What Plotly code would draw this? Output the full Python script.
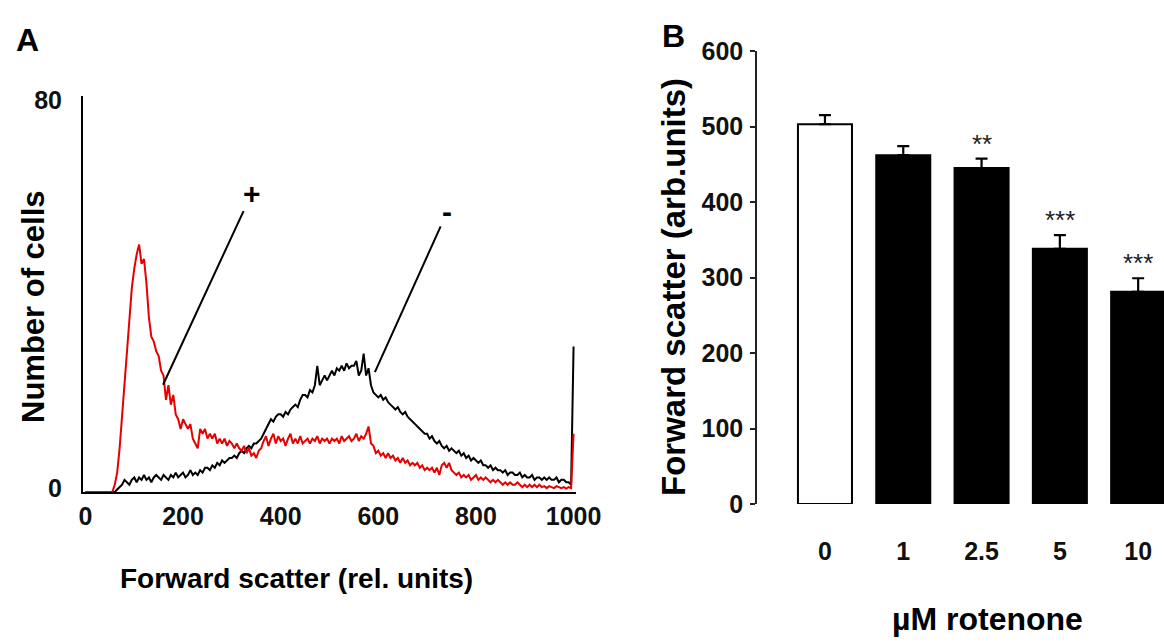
import plotly.graph_objects as go

# ---------------- data ----------------
# Panel A: flow-cytometry histograms (counts per channel, channels every 5 units)
red_counts = [
    0, 0, 0, 0, 0, 0, 0, 0, 0, 0,
    0, 0, 1.5, 4, 9, 16, 23, 30, 36, 42,
    46, 49, 51, 47, 48, 43, 36, 32, 31, 29,
    28, 25, 24, 19, 22, 18, 20, 16, 15, 13,
    15, 14, 13, 14, 11, 10, 9, 13, 12, 13,
    11, 12, 11, 12, 10, 11, 10, 11, 9.5, 10.5,
    10, 9, 10, 9, 8.5, 9.5, 8, 9, 7.5, 8,
    7, 8.5, 9, 10.5, 11.5, 9.5, 11, 12, 10, 11.5,
    10.5, 11, 9.5, 11, 12, 10, 11, 10, 11.5, 10,
    10.5, 11, 10, 11, 10.5, 11.5, 10, 11, 10.5, 11,
    10, 11, 10.5, 11, 10, 11.5, 10.5, 11, 11.5, 10.5,
    11, 12, 10.5, 11.5, 11, 12, 13.5, 10, 9.5, 8,
    8.5, 7.5, 8, 7, 8, 7, 7.5, 6.5, 7, 6,
    7, 6, 6.5, 5.5, 6, 5.5, 6, 5, 5.5, 4.5,
    5, 4.5, 5, 4, 5, 3.5, 5.5, 6, 5, 6,
    4.5, 4, 3.5, 4, 3, 3.5, 3, 3.5, 2.5, 3,
    3.5, 2.5, 3, 2.5, 3, 2.5, 2, 2.5, 2, 2.5,
    2, 1.5, 2, 1.5, 2, 1.5, 1.5, 2, 1.5, 1,
    1.5, 1, 1.5, 1, 1.5, 1, 1.5, 1, 1.2, 0.8,
    1.2, 1, 0.8, 1.2, 1, 0.8, 1, 0.7, 1, 0.8,
    12,
]
black_counts = [
    0, 0, 0, 0, 0, 0, 0, 0, 0, 0,
    0, 0, 0, 0.5, 1, 1.5, 2.5, 2, 1.5, 2.5,
    3, 2, 3, 2.5, 3.5, 2.5, 3, 2, 3, 3.5,
    3, 2.5, 3.5, 3, 2.5, 3.5, 3, 4, 3, 3.5,
    4, 3, 3.5, 4.5, 3.5, 4, 3.5, 4.5, 4, 5,
    5, 4.5, 5.5, 5, 6, 5.5, 6.5, 6, 6.5, 7,
    7, 7.5, 7, 8, 8.5, 8, 9, 9.5, 9, 10,
    10, 10.5, 11, 12, 13, 14, 15, 14.5, 15.5, 16,
    16, 15.5, 16.5, 16, 17, 17.5, 18, 17.5, 19, 20,
    20, 19.5, 21, 20.5, 22, 26, 22, 23, 24, 23,
    24, 25, 24, 25.5, 25, 26, 25, 26.5, 25.5, 26,
    26, 27, 24, 25, 28.5, 24, 25.5, 22, 20.5, 20,
    19.5, 20, 19, 19.5, 18.5, 18, 17.5, 17, 17.5, 16.5,
    16, 16.5, 15.5, 15, 14.5, 14, 13.5, 13, 12.5, 12,
    12, 11, 11.5, 10.5, 10, 10.5, 9.5, 9, 9.5, 8.5,
    9, 8.5, 8, 8.5, 7.5, 8, 7, 7.5, 6.5, 7,
    6.5, 6, 6.5, 5.5, 5.5, 5, 5.5, 4.5, 5, 4.5,
    4.5, 4, 4.5, 3.5, 4, 4, 3.5, 3.5, 4, 3,
    3.5, 3, 3, 3.5, 2.5, 3, 3, 2.5, 3, 2.5,
    3, 2.5, 2.5, 3, 2, 2.5, 2.5, 2, 2, 1.5,
    30,
]
channel_step = 5
red_channels = [channel_step * i for i in range(len(red_counts))]
black_channels = [channel_step * i for i in range(len(black_counts))]

a_xtick_vals = [0, 200, 400, 600, 800, 1000]
a_xtick_text = ["0", "200", "400", "600", "800", "1000"]
a_ytick_vals = [0, 80]
a_ytick_text = ["0", "80"]

# leader labels: (label, point on curve x, y, label x, y)
leader_labels = ["+", "-"]
leader_point_x = [159, 593]
leader_point_y = [22.1, 24.7]
leader_text_x = [341, 741]
leader_text_y = [61.6, 57.7]

# Panel B: bar chart
rotenone = ["0", "1", "2.5", "5", "10"]
fsc_mean = [503, 462, 445, 338, 281]
fsc_sem = [12, 12, 12.5, 18, 18]
significance = ["", "", "**", "***", "***"]
b_ytick_vals = [0, 100, 200, 300, 400, 500, 600]

# ---------------- layout helpers ----------------
W, H = 1164, 642
FONT = "Liberation Sans, Arial, sans-serif"


def px(p):
    return p / W


def py(p):
    return 1 - p / H


fig = go.Figure()

# Panel A traces (black first, red on top)
fig.add_trace(go.Scatter(
    x=black_channels, y=black_counts, mode="lines",
    line=dict(color="#000000", width=2), xaxis="x", yaxis="y",
    showlegend=False, hoverinfo="skip",
))
fig.add_trace(go.Scatter(
    x=red_channels, y=red_counts, mode="lines",
    line=dict(color="#e60000", width=2), xaxis="x", yaxis="y",
    showlegend=False, hoverinfo="skip",
))

# Panel B bars
bar_fill = ["#ffffff"] + ["#000000"] * (len(rotenone) - 1)
fig.add_trace(go.Bar(
    x=rotenone, y=fsc_mean, width=0.69,
    marker=dict(color=bar_fill, line=dict(color="#000000", width=2)),
    error_y=dict(type="data", array=fsc_sem, arrayminus=[0] * len(fsc_sem),
                 symmetric=False, color="#000000", thickness=2.2, width=6),
    xaxis="x2", yaxis="y2", showlegend=False, hoverinfo="skip",
))

tickfont = dict(family=FONT, size=25, color="#111111", weight="bold")

fig.update_layout(
    width=W, height=H, autosize=False,
    margin=dict(l=0, r=0, t=0, b=0, pad=0),
    paper_bgcolor="white", plot_bgcolor="white",
    showlegend=False,
    xaxis=dict(
        domain=[px(83), px(576)], range=[-5, 1005], anchor="y",
        showline=True, linecolor="#000000", linewidth=2,
        showgrid=False, zeroline=False, ticks="", automargin=False,
        tickvals=a_xtick_vals, ticktext=a_xtick_text,
        tickfont=tickfont, ticklabelstandoff=1,
    ),
    yaxis=dict(
        domain=[py(492), py(96)], range=[0, 81.6], anchor="x",
        showline=True, linecolor="#000000", linewidth=2,
        showgrid=False, zeroline=False, ticks="", automargin=False,
        tickvals=a_ytick_vals, ticktext=a_ytick_text,
        tickfont=tickfont, ticklabelstandoff=14, ticklabelshift=-4,
    ),
    xaxis2=dict(
        domain=[px(757), 1.0], range=[-0.868, 4.33], anchor="y2",
        type="category", showline=False, showgrid=False, zeroline=False,
        ticks="", tickfont=tickfont, ticklabelstandoff=30, automargin=False,
    ),
    yaxis2=dict(
        domain=[py(504), py(51)], range=[0, 600], anchor="x2",
        showline=True, linecolor="#222222", linewidth=1.5,
        showgrid=False, zeroline=False, automargin=False,
        ticks="outside", ticklen=5, tickwidth=1.5, tickcolor="#222222",
        tickvals=b_ytick_vals, tickfont=tickfont, ticklabelstandoff=2,
    ),
)

# leader lines with +/- labels
for lab, x0, y0, tx, ty in zip(leader_labels, leader_point_x, leader_point_y,
                                leader_text_x, leader_text_y):
    fig.add_annotation(
        x=x0, y=y0, ax=tx, ay=ty, xref="x", yref="y", axref="x", ayref="y",
        text=lab, showarrow=True, arrowhead=0, arrowwidth=2, arrowcolor="#000000",
        font=dict(family=FONT, size=30, color="#000000", weight="bold"),
    )

# significance stars (category index used for position)
for i, (m, e, s) in enumerate(zip(fsc_mean, fsc_sem, significance)):
    if s:
        fig.add_annotation(
            x=i, y=m + e, xref="x2", yref="y2", text=s, showarrow=False,
            yanchor="bottom", yshift=-2,
            font=dict(family=FONT, size=26, color="#222222"),
        )

# titles and panel letters
def label(text, x, y, size, angle=0):
    fig.add_annotation(
        x=px(x), y=py(y), xref="paper", yref="paper", text=text,
        showarrow=False, textangle=angle, xanchor="center", yanchor="middle",
        font=dict(family=FONT, size=size, color="#000000", weight="bold"),
    )


label("A", 27, 40, 32)
label("B", 673, 36, 32)
label("Number of cells", 33, 307, 31, -90)
label("Forward scatter (rel. units)", 296, 578, 28)
label("Forward scatter (arb.units)", 673, 287, 33, -90)
label("µM rotenone", 987, 619, 32)

fig.write_html(
    "out.html",
    config={"displayModeBar": False, "responsive": False},
    post_script="document.body.style.margin='0';document.body.style.padding='0';"
                "document.documentElement.style.overflow='hidden';",
)
